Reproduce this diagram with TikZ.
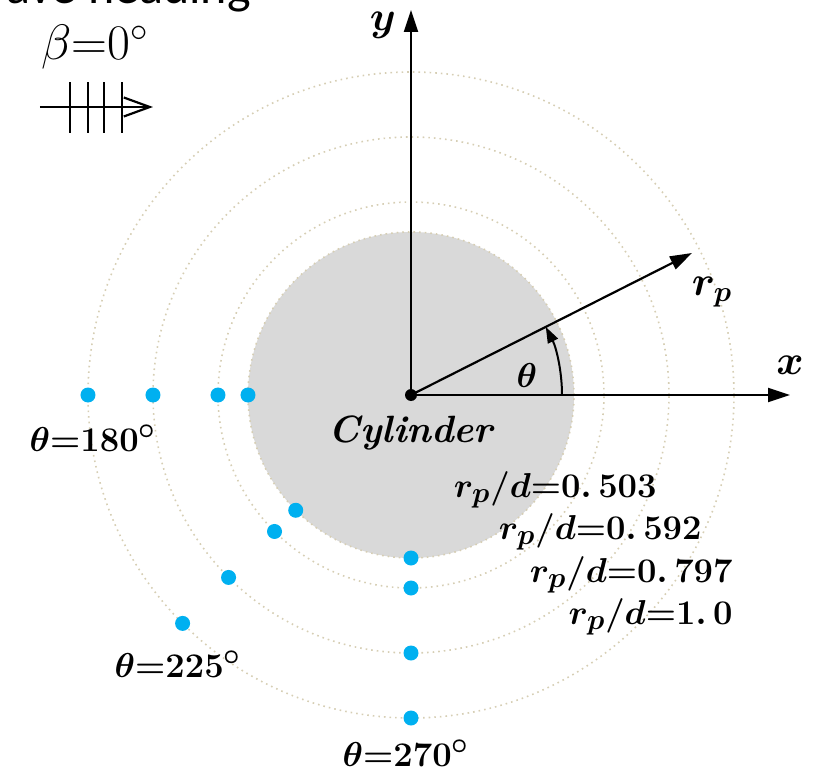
\documentclass[tikz,border=0pt]{standalone}
\usepackage{fontspec}
\usepackage{bm}
\usetikzlibrary{arrows.meta}
\newfontfamily\headfont{Carlito}
\definecolor{probe}{RGB}{0,176,240}
\definecolor{ring}{RGB}{214,206,180}

\begin{document}
\begin{tikzpicture}[x=0.5pt,y=0.5pt,
  axis/.style={line width=1.1pt,-{Triangle[length=11pt,width=7pt]}},
  ringline/.style={ring,dotted,line width=0.8pt},
  probept/.style={circle,fill=probe,inner sep=0pt,minimum size=7.5pt},
  lab/.style={inner sep=0pt,font=\fontsize{19}{21}\selectfont\boldmath}]
  \useasboundingbox (-411,-376) rectangle (402,395);
  % cylinder and the four rings of probes
  \fill[black!15] (0,0) circle (163);
  \foreach \r in {163,193,258,323}
    \draw[ringline] (0,0) circle (\r);
  \foreach \r [count=\i] in {163,193,258,323} {
    \node[probept] (pa\i) at (180:\r) {};
    \node[probept] (pb\i) at (225:\r) {};
    \node[probept] (pc\i) at (270:\r) {};
  }

  % axes
  \coordinate (O) at (0,0);
  \coordinate (xtip) at (379,0);
  \coordinate (ytip) at (0,385);
  \coordinate (rtip) at (281,142);
  \draw[axis] (O) -- (xtip);
  \draw[axis] (O) -- (ytip);
  \draw[axis] (O) -- (rtip);
  \fill (O) circle (6);
  \coordinate (th0) at (0:151);
  \draw[line width=1pt,-{Triangle[length=8pt,width=5.5pt]}] (th0) arc[start angle=0,end angle=26.8,radius=151];

  \node[lab,font=\fontsize{21}{23}\selectfont\boldmath] (xl) at (379,30) {$x$};
  \node[lab,font=\fontsize{21}{23}\selectfont\boldmath] (yl) at (-28,370) {$y$};
  \node[lab,font=\fontsize{21}{23}\selectfont\boldmath] (rl) at (301,103) {$r_p$};
  \node[lab] (thl) at (116,20) {$\theta$};
  \node[lab,font=\fontsize{19}{21}\selectfont\bfseries\itshape] (cyl) at (0,-38) {Cylinder};

  % probe labels
  \node[lab] (l180) at (-318,-43) {$\theta{=}180^{\circ}$};
  \node[lab] (l225) at (-233,-269) {$\theta{=}225^{\circ}$};
  \node[lab] (l270) at (-5,-358) {$\theta{=}270^{\circ}$};
  \node[lab,anchor=east] (d1) at (246,-95) {$r_p/d{=}0.\,503$};
  \node[lab,anchor=east] (d2) at (291,-137) {$r_p/d{=}0.\,592$};
  \node[lab,anchor=east] (d3) at (322,-180) {$r_p/d{=}0.\,797$};
  \node[lab,anchor=east] (d4) at (322,-222) {$r_p/d{=}1.\,0$};

  % wave heading
  \node[inner sep=0pt,anchor=base east,font=\headfont\fontsize{25}{28}\selectfont] (wh) at (-160,391) {Wave heading};
  \node[inner sep=0pt,font=\fontsize{24}{28}\selectfont] (beta) at (-316,348) {$\beta{=}0^{\circ}$};
  \coordinate (wa) at (-371,288);
  \coordinate (wb) at (-258,288);
  \draw[line width=1.1pt,-{Straight Barb[length=13pt,width=9.5pt]}] (wa) -- (wb);
  \foreach \x in {-341,-323,-307,-289}
    \draw[line width=1.1pt] (\x,262) -- (\x,313);
\end{tikzpicture}
\end{document}
